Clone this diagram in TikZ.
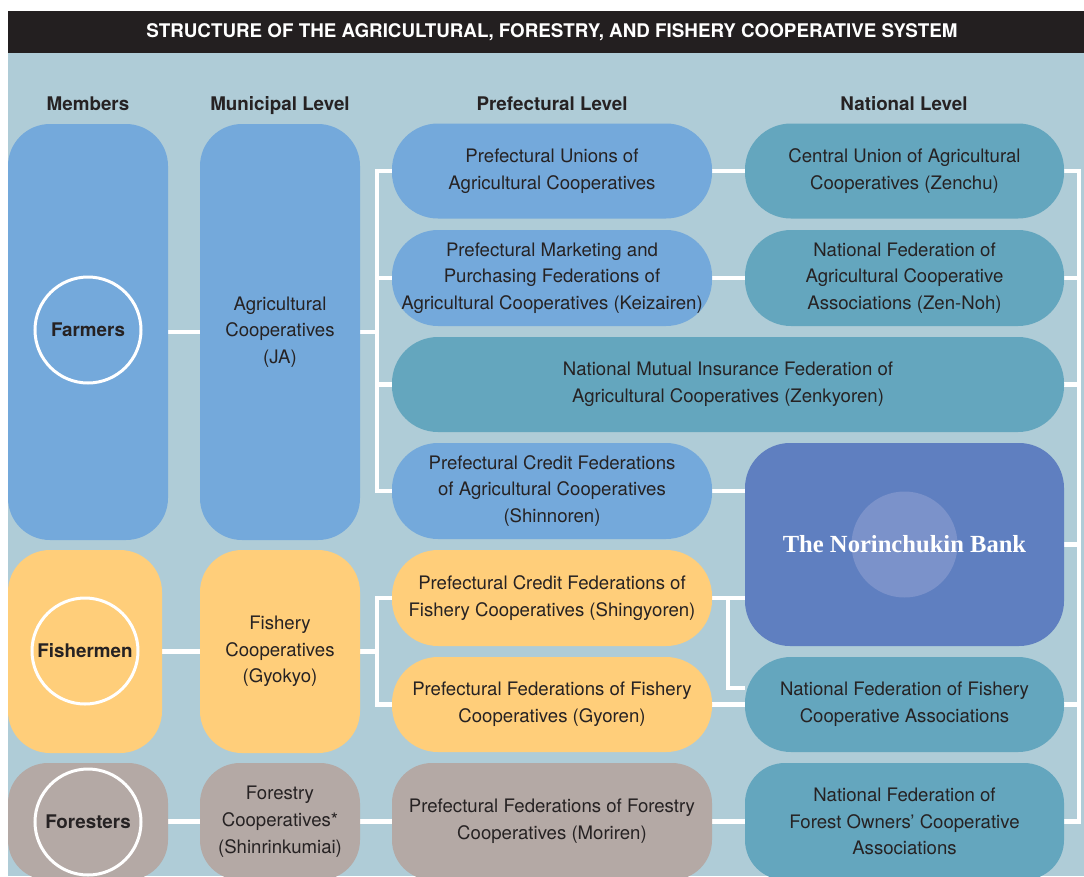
\documentclass[tikz,border=0pt]{standalone}
\usepackage{fontspec}
\setmainfont{TeX Gyre Heros}
\newfontfamily\bankfont{Liberation Serif}

\definecolor{headbar}{RGB}{35,31,32}
\definecolor{inkdark}{RGB}{38,34,35}
\definecolor{bgblue}{RGB}{175,204,215}
\definecolor{agriblue}{RGB}{116,169,219}
\definecolor{fishyellow}{RGB}{255,206,122}
\definecolor{forestgrey}{RGB}{180,169,165}
\definecolor{natteal}{RGB}{100,166,190}
\definecolor{bankblue}{RGB}{95,127,192}
\definecolor{bankdot}{RGB}{123,146,202}

\pgfdeclarelayer{bg}
\pgfsetlayers{bg,main}

\tikzset{
  box/.style={draw=none, inner sep=0pt, align=center, text=inkdark,
    font=\fontsize{18.6}{26.7}\selectfont},
  pill/.style={box, rounded corners=46pt, minimum width=320pt, minimum height=95pt},
  tall/.style={box, rounded corners=42pt, minimum width=160pt},
  member/.style={circle, draw=white, line width=3pt, minimum size=106pt, inner sep=0pt,
    text=inkdark, font=\fontsize{18.8}{22}\selectfont\bfseries},
  level/.style={anchor=base, text=inkdark, font=\fontsize{18.8}{22}\selectfont\bfseries},
  link/.style={draw=white, line width=4.5pt, line join=miter},
}

\begin{document}
\begin{tikzpicture}[x=1pt,y=-1pt]
\useasboundingbox (0,0) rectangle (1084,876);
\clip (0,0) rectangle (1084,876);

\begin{pgfonlayer}{bg}
\fill[white] (0,0) rectangle (1084,876);
\fill[bgblue] (8,53) rectangle (1084,876);
\end{pgfonlayer}

% title bar
\fill[headbar] (8,11) rectangle (1084,53);
\node[anchor=base, text=white, font=\fontsize{18.8}{22}\selectfont\bfseries] (title) at (552,37.5)
  {STRUCTURE OF THE AGRICULTURAL, FORESTRY, AND FISHERY COOPERATIVE SYSTEM};

% column headings
\node[level] (hmembers) at (88,110) {Members};
\node[level] (hmunicipal) at (280,110) {Municipal Level};
\node[level] (hprefectural) at (552,110) {Prefectural Level};
\node[level] (hnational) at (904,110) {National Level};

% members
\node[tall, fill=agriblue, minimum height=416pt] (farmbox) at (88,332) {};
\node[tall, fill=fishyellow, minimum width=154pt, minimum height=203pt] (fishbox) at (85,651.5) {};
\node[tall, fill=forestgrey, rounded corners=40pt, minimum height=117pt] (forbox) at (88,821.5) {};
\node[member] (farmers) at (88,330) {Farmers};
\node[member] (fishermen) at (85,651) {Fishermen};
\node[member] (foresters) at (88,822) {Foresters};

% municipal level
\node[tall, fill=agriblue, minimum height=416pt] (agri) at (280,332)
  {Agricultural\\Cooperatives\\(JA)};
\node[tall, fill=fishyellow, minimum height=203pt] (gyokyo) at (280,651.5)
  {Fishery\\Cooperatives\\(Gyokyo)};
\node[tall, fill=forestgrey, rounded corners=40pt, minimum height=117pt] (shinrin) at (280,821.5)
  {Forestry\\Cooperatives*\\(Shinrinkumiai)};

% prefectural level
\node[pill, fill=agriblue] (unions) at (552,171)
  {Prefectural Unions of\\Agricultural Cooperatives};
\node[pill, fill=agriblue, minimum height=96pt] (marketing) at (552,278)
  {Prefectural Marketing and\\Purchasing Federations of\\Agricultural Cooperatives (Keizairen)};
\node[pill, fill=natteal, minimum width=672pt] (insurance) at (728,384.5)
  {National Mutual Insurance Federation of\\Agricultural Cooperatives (Zenkyoren)};
\node[pill, fill=agriblue, minimum height=96pt] (shinnoren) at (552,491)
  {Prefectural Credit Federations\\of Agricultural Cooperatives\\(Shinnoren)};
\node[pill, fill=fishyellow, minimum height=96pt] (shingyoren) at (552,598)
  {Prefectural Credit Federations of\\Fishery Cooperatives (Shingyoren)};
\node[pill, fill=fishyellow] (gyoren) at (552,704.5)
  {Prefectural Federations of Fishery\\Cooperatives (Gyoren)};
\node[pill, fill=forestgrey, rounded corners=40pt, minimum height=117pt] (moriren) at (552,821.5)
  {Prefectural Federations of Forestry\\Cooperatives (Moriren)};

% national level
\node[pill, fill=natteal, minimum width=319pt] (zenchu) at (904.5,171)
  {Central Union of Agricultural\\Cooperatives (Zenchu)};
\node[pill, fill=natteal, minimum width=319pt, minimum height=96pt] (zennoh) at (904.5,278)
  {National Federation of\\Agricultural Cooperative\\Associations (Zen-Noh)};
\node[box, fill=bankblue, rounded corners=45pt, minimum width=319pt, minimum height=203pt,
  text=white, font=\bankfont\bfseries\fontsize{24.6}{28}\selectfont,
  path picture={\fill[bankdot] (path picture bounding box.center) circle (53pt);}]
  (bank) at (904.5,544.5) {The Norinchukin Bank};
\node[pill, fill=natteal, minimum width=319pt] (natfish) at (904.5,704.5)
  {National Federation of Fishery\\Cooperative Associations};
\node[pill, fill=natteal, rounded corners=40pt, minimum width=319pt, minimum height=117pt] (forestown) at (904.5,821.5)
  {National Federation of\\Forest Owners' Cooperative\\Associations};

% connectors, kept behind the boxes
\coordinate (abus) at (377,0);
\coordinate (fbus) at (728,0);
\coordinate (nbus) at (1079,0);
\begin{pgfonlayer}{bg}
\draw[link] (farmbox.east) -- (agri.west);
\draw[link] (fishbox.east) -- (gyokyo.west);
\draw[link] (forbox.east) -- (shinrin.west);

% municipal to prefectural
\draw[link] (agri.east) -- (agri.east -| abus);
\draw[link] (unions.west) -| (abus |- shinnoren.west) -- (shinnoren.west);
\foreach \n in {marketing, insurance}
  \draw[link] (\n.west) -- (\n.west -| abus);
\draw[link] (gyokyo.east) -- (gyokyo.east -| abus);
\draw[link] (shingyoren.west) -| (abus |- gyoren.west) -- (gyoren.west);
\draw[link] (shinrin.east) -- (moriren.west);

% prefectural to national
\draw[link] (unions.east) -- (zenchu.west);
\draw[link] (marketing.east) -- (zennoh.west);
\draw[link] (shinnoren.east) -- (shinnoren.east -| bank.west);
\draw[link] (shingyoren.east) -- (shingyoren.east -| bank.west);
\draw[link] (fbus |- shingyoren.east) |- ([yshift=16.5pt]natfish.west);
\draw[link] (gyoren.east) -- (natfish.west);
\draw[link] (moriren.east) -- (forestown.west);

% national bus on the right
\draw[link] (zenchu.east) -| (nbus |- forestown.east) -- (forestown.east);
\foreach \n in {zennoh, insurance, bank, natfish}
  \draw[link] (\n.east) -- (\n.east -| nbus);
\end{pgfonlayer}

\end{tikzpicture}
\end{document}
